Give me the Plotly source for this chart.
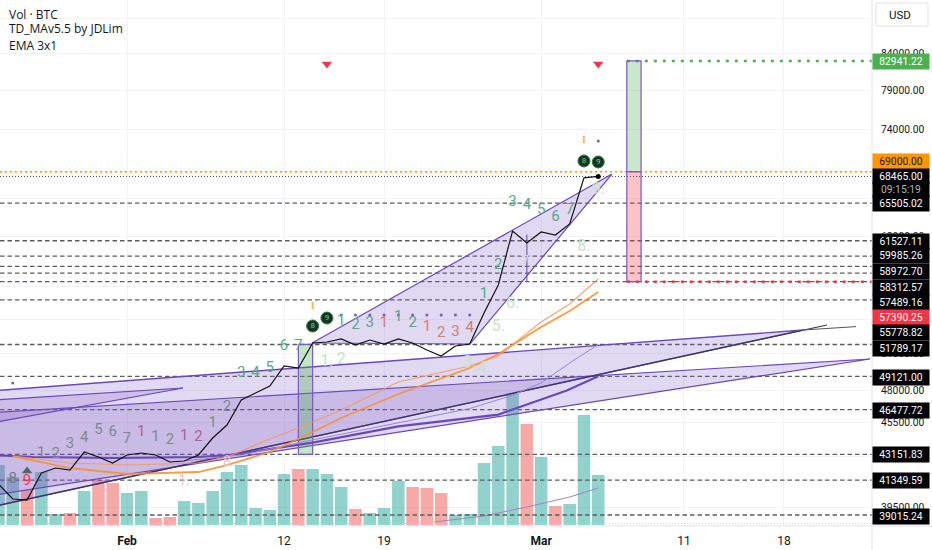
import plotly.graph_objects as go

# ---- volume pane (day 0 = 1 Feb) ----
vol_days = list(range(-9, 34))
vol_values = [60, 48, 35, 53, 11, 12, 34, 45, 42, 32, 34, 7, 8, 24, 22, 34, 53, 60, 17, 15,
              51, 56, 56, 51, 38, 16, 12, 17, 44, 38, 37, 32, 10, 11, 62, 79, 132, 101, 68, 19, 21, 110, 50]
vol_up = [1, 1, 0, 1, 1, 0, 1, 0, 0, 1, 1, 0, 0, 1, 1, 1, 1, 1, 1, 1,
          1, 0, 1, 1, 1, 0, 1, 1, 1, 0, 0, 0, 1, 1, 1, 1, 1, 0, 1, 0, 1, 1, 1]
vol_ma_days = [21.5, 25, 28, 31, 33]
vol_ma_values = [3, 9, 18, 28, 37]

# ---- price ----
price_days = list(range(-9, 34))
price_close = [41077, 40066, 39999, 41834, 42183, 42043, 43319, 42961, 42535, 43104, 43247, 43104, 42606, 42677,
               43104, 44338, 45307, 47228, 47780, 48339, 49972, 49806, 51918, 52004, 52264, 51746, 52177, 51832,
               52264, 51918, 51318, 50809, 51660, 51832, 54570, 57170, 62536, 61302, 62431, 62121, 63267, 68300, 68465]

ema_days = [-8, -4, 0, 5, 7, 10, 12, 15, 19, 24, 26, 29, 31, 33]
ema_slow = [43032, 42183, 41765, 41904, 42394, 43319, 44265, 45836, 47700, 49806, 50977, 53316, 54751, 56509]
ema_fast = [43032, 42535, 42394, 42535, 42961, 44265, 45081, 46449, 48661, 49972, 50809, 53760, 55392, 57742]

thick_days = [-10.5, -6.6, -0.8, 4.9, 7.2, 13, 19, 26, 30.8, 33]
thick_vals = [43150, 42961, 42890, 42961, 43104, 44000, 45200, 46100, 47980, 49120]
thin_days = [4, 8, 13, 19, 24, 27, 29, 31.1, 33]
thin_vals = [42680, 43100, 44200, 45500, 46560, 47610, 48590, 50300, 51790]

# ---- wedges (day, price); the open left end lies beyond the visible range ----
wedge_a_days = [12.96, 33.96, 24.02, 12.96]
wedge_a_vals = [51918, 68742, 51832, 51918]
wedge_b_days = [-10.5, 47.34, -10.5, -10.5]
wedge_b_vals = [47860, 53051, 39341, 47860]
wedge_c_days = [-10.5, 52.03, -10.5, -10.5]
wedge_c_vals = [46180, 50556, 40160, 46180]
wedge_d_days = [-10.5, 3.92, -10.5, -10.5]
wedge_d_vals = [47150, 48178, 45270, 47150]
spike_days = [28, 28]
spike_vals = [62180, 57489]
ext_low_days = [-10.5, 49.02]
ext_low_vals = [39341, 53493]
ext_top_days = [47.34, 51.05]
ext_top_vals = [53051, 53351]

# ---- position boxes ----
box_left_days = [12, 13, 13, 12, 12]
box_left_vals = [51800, 51800, 43151.83, 43151.83, 51800]
box_up_days = [35, 36, 36, 35, 35]
box_up_vals = [82941.22, 82941.22, 69000, 69000, 82941.22]
box_dn_days = [35, 36, 36, 35, 35]
box_dn_vals = [69000, 69000, 57489.16, 57489.16, 69000]

# ---- levels ----
dash_levels = [65505.02, 61527.11, 59985.26, 58972.70, 58312.57, 57489.16, 55778.82,
               51789.17, 49121.00, 46477.72, 43151.83, 41349.59, 39015.24]
resist_level = 69000.00
last_level = 68465.00
target_level = 82941.22
stop_level = 57489.16

# ---- TD counts ----
td_grey_days = [-6, -5, -4, -3, -2, -1, 0, 2, 3, 6, 7]
td_grey_vals = [43247, 43176, 43899, 44338, 44932, 44783, 44265, 44412, 44192, 45457, 46682]
td_grey_text = ["1", "2", "3", "4", "5", "6", "7", "1", "2", "1", "2"]
td_mauve_days = [1, 4, 5]
td_mauve_vals = [44783, 44486, 44412]
td_mauve_text = ["1", "1", "2"]
td_green_days = [8, 9, 10, 11, 12, 15, 16, 17, 19, 20, 25, 26, 27, 28, 29, 30, 31]
td_green_vals = [49394, 49394, 49806, 51660, 51660, 53850, 53493, 53671, 54209, 53671, 56321, 59100, 65621, 65295, 64755, 64006, 64755]
td_green_text = ["3", "4", "5", "6", "7", "1", "2", "3", "1", "2", "1", "2", "3", "4", "5", "6", "7"]
td_salmon_days = [18, 21, 22, 23, 24]
td_salmon_vals = [53671, 53316, 52787, 52875, 53227]
td_salmon_text = ["1", "1", "2", "3", "4"]
td_pale_days = [14, 15, 24, 25, 26, 27, 28, 32, 33]
td_pale_vals = [50304, 50472, 50221, 49723, 53316, 55392, 59297, 60893, 66944]
td_pale_text = ["1.", "2", "3.", "4.", "5.", "6.", "7.", "8.", "9."]
td_low_days = [-8, -7]
td_low_vals = [41419, 41282]
td_low_text = ["8", "9"]
td_faint_days = [4, 7]
td_faint_vals = [41282, 42606]
td_faint_text = ["1.", "8"]
badge_days = [13, 14, 32, 33]
badge_vals = [53405, 54118, 70247, 70131]
badge_text = ["8", "9", "8", "9"]
tick_i_days = [13, 32]
tick_i_vals = [55209, 72731]
dot_days = [15, 16, 17, 18, 19, 20, 21, 22, 23, 24, 33, -8]
dot_vals = [54389] * 10 + [72611, 48581]
sell_days = [14, 33]
sell_vals = [82528, 82528]
buy_days = [-7]
buy_vals = [41974]

# ---- axes ----
x_tick_days = [0, 11, 18, 29, 39, 46]
x_tick_text = ["<b>Feb</b>", "12", "19", "<b>Mar</b>", "11", "18"]
y_ticks = [39500, 43000, 45500, 48000, 51000, 54000, 57000, 62000, 66000, 69000, 74000, 79000, 84000, 89000]

# right-hand price tags: text, centre pixel row, background, text colour
tags = [
    ("82941.22", 61, "#4caf50", "#ffffff"),
    ("69000.00", 161, "#ff9800", "#131722"),
    ("68465.00", 176, "#000000", "#ffffff"),
    ("09:15:19", 189, "#000000", "#b2b5be"),
    ("65505.02", 203, "#000000", "#ffffff"),
    ("61527.11", 241, "#000000", "#ffffff"),
    ("59985.26", 256, "#000000", "#ffffff"),
    ("58972.70", 271, "#000000", "#ffffff"),
    ("58312.57", 287, "#000000", "#ffffff"),
    ("57489.16", 302, "#000000", "#ffffff"),
    ("57390.25", 317, "#f23645", "#ffffff"),
    ("55778.82", 332, "#000000", "#ffffff"),
    ("51789.17", 348, "#000000", "#ffffff"),
    ("49121.00", 377, "#000000", "#ffffff"),
    ("46477.72", 410, "#000000", "#ffffff"),
    ("43151.83", 454, "#000000", "#ffffff"),
    ("41349.59", 480, "#000000", "#ffffff"),
    ("39015.24", 516, "#000000", "#ffffff"),
]

PLOT_H = 526
XMIN, XMAX = -8.894, 52.17
PURPLE = "#6a48b8"
FONT = "Roboto"

fig = go.Figure()

# volume on the base axis, so it sits beneath everything else
fig.add_trace(go.Bar(x=vol_days, y=vol_values, width=0.88, yaxis="y",
                     marker=dict(color=["rgba(38,166,154,0.5)" if u else "rgba(239,83,80,0.5)" for u in vol_up],
                                 line=dict(width=0))))
fig.add_trace(go.Scatter(x=vol_ma_days, y=vol_ma_values, mode="lines", yaxis="y",
                         line=dict(color="#9b86c6", width=1)))
fig.add_trace(go.Scatter(x=[XMIN, XMAX], y=[1.5, 1.5], mode="lines", yaxis="y",
                         line=dict(color="#cfd2da", width=1, dash="1px,2px")))


def price_line(xs, ys, color, width=1.0, dash="solid"):
    fig.add_trace(go.Scatter(x=xs, y=ys, mode="lines", yaxis="y2",
                             line=dict(color=color, width=width, dash=dash)))


def filled(xs, ys, fill, line_color, width=1.2):
    fig.add_trace(go.Scatter(x=xs, y=ys, mode="lines", yaxis="y2", fill="toself", fillcolor=fill,
                             line=dict(color=line_color, width=width)))


def counts(xs, ys, text, color, size=14, family=FONT):
    fig.add_trace(go.Scatter(x=xs, y=ys, text=text, mode="text", yaxis="y2", textposition="middle center",
                             cliponaxis=False, textfont=dict(color=color, size=size, family=family)))


# dashed levels
dash_x, dash_y = [], []
for lv in dash_levels:
    dash_x += [XMIN, XMAX, None]
    dash_y += [lv, lv, None]
price_line(dash_x, dash_y, "#5c5c5c", 1.3, "4.5px,3px")
price_line([XMIN, XMAX], [resist_level] * 2, "#ff9800", 1.5, "2px,3px")
price_line([XMIN, XMAX], [last_level] * 2, "#444444", 1, "1px,2px")
price_line([35, XMAX], [target_level] * 2, "#4caf50", 2.5, "3px,6px")
price_line([35, XMAX], [stop_level] * 2, "#f23645", 2.5, "3px,6px")

# wedges
filled(wedge_b_days, wedge_b_vals, "rgba(126,87,194,0.23)", PURPLE, 1.4)
filled(wedge_c_days, wedge_c_vals, "rgba(126,87,194,0.23)", PURPLE, 1.2)
filled(wedge_d_days, wedge_d_vals, "rgba(126,87,194,0.2)", PURPLE, 1.2)
filled(wedge_a_days, wedge_a_vals, "rgba(126,87,194,0.23)", PURPLE, 1.2)
price_line(spike_days, spike_vals, "#7e57c2", 1.2)
price_line(ext_low_days, ext_low_vals, "#3b3566", 1.2)
price_line(ext_top_days, ext_top_vals, "#555555", 1.0)

# position boxes, above the wedges
filled(box_left_days, box_left_vals, "rgba(76,175,80,0.32)", "#7e57c2", 1.2)
filled(box_up_days, box_up_vals, "rgba(76,175,80,0.3)", "#7e57c2", 1.2)
filled(box_dn_days, box_dn_vals, "rgba(242,54,69,0.3)", "#7e57c2", 1.2)

# averages
price_line(thick_days, thick_vals, "#6a48b8", 2.2)
price_line(thin_days, thin_vals, "#9b86d6", 1.0)
price_line(ema_days, ema_slow, "rgba(250,145,50,0.9)", 1.8)
price_line(ema_days, ema_fast, "rgba(248,150,90,0.85)", 1.2)

# close
price_line(price_days, price_close, "#131313", 1.2)
fig.add_trace(go.Scatter(x=price_days[-1:], y=price_close[-1:], mode="markers", yaxis="y2",
                         marker=dict(color="#000000", size=5)))

# markers
fig.add_trace(go.Scatter(x=sell_days, y=sell_vals, mode="markers", yaxis="y2",
                         marker=dict(symbol="triangle-down", color="#f23645", size=9)))
fig.add_trace(go.Scatter(x=buy_days, y=buy_vals, mode="markers", yaxis="y2",
                         marker=dict(symbol="triangle-up", color="#4a6b62", size=9)))
fig.add_trace(go.Scatter(x=dot_days, y=dot_vals, mode="markers", yaxis="y2",
                         marker=dict(color="#7e57c2", size=3)))
fig.add_trace(go.Scatter(x=badge_days, y=badge_vals, text=badge_text, mode="markers+text", yaxis="y2",
                         textposition="middle center", textfont=dict(color="#81c784", size=8, family=FONT),
                         marker=dict(color="#14352a", size=12, line=dict(color="#2e7d32", width=1))))

# TD counts
counts(td_grey_days, td_grey_vals, td_grey_text, "#7d8a8c", 15)
counts(td_mauve_days, td_mauve_vals, td_mauve_text, "#a8638e", 15)
counts(td_green_days, td_green_vals, td_green_text, "#57a888", 15)
counts(td_salmon_days, td_salmon_vals, td_salmon_text, "#cf8172", 15)
counts(td_pale_days, td_pale_vals, td_pale_text, "#c5e3c8", 16)
counts(td_low_days[:1], td_low_vals[:1], td_low_text[:1], "#6f7f7c", 15)
counts(td_low_days[1:], td_low_vals[1:], td_low_text[1:], "#f23645", 15)
counts(td_faint_days, td_faint_vals, td_faint_text, "#f0c4bc", 14)
counts(tick_i_days, tick_i_vals, ["<b>I</b>", "<b>I</b>"], "#ffb04d", 10, "Liberation Serif")

annotations = []
for text, row, bg, fg in tags:
    annotations.append(dict(text=text, xref="paper", yref="paper", x=1, y=1 - row / PLOT_H, xanchor="left",
                            yanchor="middle", showarrow=False, bgcolor=bg, width=56, height=15, borderpad=0,
                            align="center", font=dict(color=fg, size=10.3, family=FONT)))
for text, row in [("Vol · BTC", 14), ("TD_MAv5.5 by JDLim", 29), ("EMA 3x1", 45)]:
    annotations.append(dict(text=text, xref="paper", yref="paper", x=7 / 872, y=1 - row / PLOT_H, xanchor="left",
                            yanchor="middle", showarrow=False,
                            font=dict(color="#131722", size=12, family="Open Sans")))
annotations.append(dict(text="USD", xref="paper", yref="paper", x=1 + 28 / 872, y=1 - 14.5 / PLOT_H,
                        xanchor="center", yanchor="middle", showarrow=False,
                        font=dict(color="#131722", size=11.5, family=FONT)))

shapes = [
    dict(type="rect", xref="paper", yref="paper", x0=1 + 4 / 872, x1=1 + 56 / 872,
         y0=1 - 26 / PLOT_H, y1=1 - 3 / PLOT_H, line=dict(color="#e0e3eb", width=1), fillcolor="#ffffff"),
    dict(type="line", xref="paper", yref="paper", x0=1, x1=1, y0=-24 / PLOT_H, y1=1,
         line=dict(color="#e0e3eb", width=1)),
    dict(type="line", xref="paper", yref="paper", x0=0, x1=1 + 60 / 872, y0=0, y1=0,
         line=dict(color="#e0e3eb", width=1)),
]

fig.update_layout(
    width=932, height=550, margin=dict(l=0, r=60, t=0, b=24, pad=0),
    paper_bgcolor="#ffffff", plot_bgcolor="#ffffff", showlegend=False, hovermode=False, barmode="overlay",
    font=dict(family=FONT, color="#131722"),
    xaxis=dict(range=[XMIN, XMAX], tickmode="array", tickvals=x_tick_days, ticktext=x_tick_text,
               showgrid=True, gridcolor="#f0f3fa", gridwidth=1, zeroline=False, showline=False,
               ticks="outside", ticklen=4, tickcolor="rgba(0,0,0,0)", tickfont=dict(size=12, color="#131722")),
    yaxis=dict(range=[-1, 525], visible=False, showgrid=False, zeroline=False, fixedrange=True),
    yaxis2=dict(type="log", range=[4.58331, 4.96275], overlaying="y", side="right", anchor="x",
                tickmode="array", tickvals=y_ticks, ticktext=[f"{t:.2f}" for t in y_ticks],
                showgrid=True, gridcolor="#f0f3fa", gridwidth=1, zeroline=False, showline=False,
                ticks="outside", ticklen=6, tickcolor="rgba(0,0,0,0)", tickfont=dict(size=10.3, color="#131722")),
    annotations=annotations, shapes=shapes,
)

fig.write_html("out.html", config={"displayModeBar": False},
               post_script="document.body.style.margin='0';document.documentElement.style.overflow='hidden';")
